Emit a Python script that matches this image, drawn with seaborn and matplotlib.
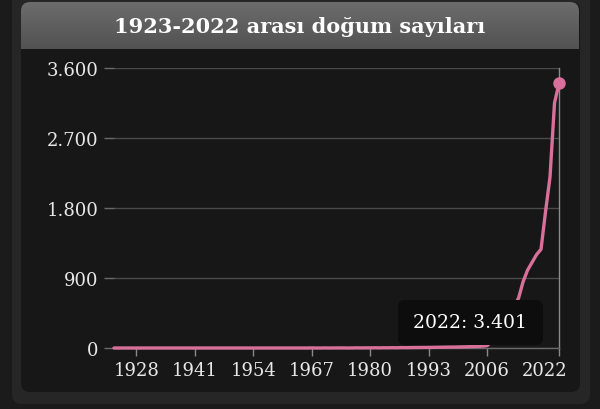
import numpy as np
import pandas as pd
import matplotlib
matplotlib.use("Agg")
import matplotlib.pyplot as plt
import seaborn as sns
from matplotlib.patches import FancyBboxPatch
from matplotlib.colors import LinearSegmentedColormap
from matplotlib.ticker import FuncFormatter
import matplotlib.transforms as mtrans

# ---- data ----
title = "1923-2022 arası doğum sayıları"
years = [
    1923, 1924, 1925, 1926, 1927, 1928, 1929, 1930, 1931, 1932,
    1933, 1934, 1935, 1936, 1937, 1938, 1939, 1940, 1941, 1942,
    1943, 1944, 1945, 1946, 1947, 1948, 1949, 1950, 1951, 1952,
    1953, 1954, 1955, 1956, 1957, 1958, 1959, 1960, 1961, 1962,
    1963, 1964, 1965, 1966, 1967, 1968, 1969, 1970, 1971, 1972,
    1973, 1974, 1975, 1976, 1977, 1978, 1979, 1980, 1981, 1982,
    1983, 1984, 1985, 1986, 1987, 1988, 1989, 1990, 1991, 1992,
    1993, 1994, 1995, 1996, 1997, 1998, 1999, 2000, 2001, 2002,
    2003, 2004, 2005, 2006, 2007, 2008, 2009, 2010, 2011, 2012,
    2013, 2014, 2015, 2016, 2017, 2018, 2019, 2020, 2021, 2022,
]
births = [
    0, 0, 0, 0, 0, 0, 0, 0, 0, 0,
    0, 0, 0, 0, 0, 0, 0, 0, 0, 0,
    0, 0, 0, 0, 0, 0, 0, 0, 0, 0,
    0, 0, 0, 0, 0, 0, 0, 0, 0, 0,
    0, 0, 0, 0, 1, 0, 0, 1, 0, 1,
    1, 1, 0, 1, 2, 1, 2, 2, 3, 2,
    3, 3, 4, 3, 5, 4, 5, 6, 6, 7,
    7, 8, 9, 10, 11, 12, 12, 14, 15, 17,
    19, 21, 24, 30, 80, 150, 240, 340, 440, 540,
    640, 850, 1000, 1100, 1200, 1270, 1750, 2200, 3150, 3401,
]
x_ticks = [1928, 1941, 1954, 1967, 1980, 1993, 2006, 2022]
y_ticks = [0, 900, 1800, 2700, 3600]
tooltip_year = 2022
tooltip_value = 3401

PINK = "#d8709a"
TXT = "#e8e8e8"


def tr_fmt(v, pos=None):
    return f"{int(round(v)):,}".replace(",", ".")


sns.set_theme(style="dark")
plt.rcParams["font.family"] = ["DejaVu Serif", "DejaVu Sans"]

fig = plt.figure(figsize=(6, 4.1), dpi=100, facecolor="#1b1b1b")

# ---- background card ----
bg = fig.add_axes([0, 0, 1, 1], zorder=0)
bg.axis("off")
bg.add_patch(FancyBboxPatch((12, -20), 578, 425,
                            boxstyle="round,pad=0,rounding_size=10",
                            fc="#262626", ec="none", zorder=1))
bg.add_patch(FancyBboxPatch((21, 3), 559, 390,
                            boxstyle="round,pad=0,rounding_size=9",
                            fc="#171717", ec="none", zorder=1))
header = FancyBboxPatch((21, 3), 558, 60,
                        boxstyle="round,pad=0,rounding_size=9",
                        fc="none", ec="none", zorder=1)
bg.add_patch(header)
grad = np.linspace(0, 1, 100).reshape(-1, 1)
cmap = LinearSegmentedColormap.from_list("hdr", ["#6c6c6c", "#525252"])
im = bg.imshow(grad, extent=(21, 579, 50, 3), cmap=cmap, aspect="auto",
               interpolation="bilinear", zorder=2)
im.set_clip_path(header)
bg.set_xlim(0, 600)
bg.set_ylim(410, 0)
bg.text(300, 27, title, ha="center", va="center", color="white",
        fontsize=15, fontweight="bold", zorder=3)

# ---- main chart ----
ax = fig.add_axes([114 / 600, 1 - 349 / 410, 445 / 600, 280 / 410], zorder=1)
ax.set_facecolor("none")
df = pd.DataFrame({"year": years, "births": births})
sns.lineplot(data=df, x="year", y="births", ax=ax, color=PINK, linewidth=2.4,
             zorder=3, clip_on=False, solid_capstyle="round")
last = df.iloc[[-1]]
ax.plot(last["year"], last["births"], "o", color=PINK, markersize=8,
        zorder=4, clip_on=False)

ax.set_xlim(years[0], years[-1])
ax.set_ylim(y_ticks[0], y_ticks[-1])
ax.set_xticks(x_ticks)
ax.set_yticks(y_ticks)
ax.yaxis.set_major_formatter(FuncFormatter(tr_fmt))
ax.set_xlabel("")
ax.set_ylabel("")
ax.grid(axis="y", color="#4a4a4a", linewidth=1)
ax.grid(axis="x", visible=False)
for s in ["left", "top"]:
    ax.spines[s].set_visible(False)
ax.spines["bottom"].set_color("#6a6a6a")
ax.spines["right"].set_color("#8a8a8a")
ax.spines["bottom"].set_linewidth(1)
ax.spines["right"].set_linewidth(1)
ax.tick_params(axis="x", bottom=True, length=5.5, width=1, color="#8a8a8a",
               pad=4, labelcolor=TXT, labelsize=13)
ax.tick_params(axis="y", left=True, length=7.2, width=1, color="#6a6a6a",
               pad=4, labelcolor=TXT, labelsize=13)

# shift last x label inwards like the reference
lbl = ax.get_xticklabels()[-1]
lbl.set_transform(lbl.get_transform() +
                  mtrans.ScaledTranslation(-0.14, 0, fig.dpi_scale_trans))

# ---- tooltip ----
ov = fig.add_axes([0, 0, 1, 1], zorder=2)
ov.axis("off")
ov.set_xlim(0, 600)
ov.set_ylim(410, 0)
ov.add_patch(FancyBboxPatch((398, 301), 145, 45,
                            boxstyle="round,pad=0,rounding_size=7",
                            fc="#0d0d0d", ec="none"))
ov.text(470, 323.5, f"{tooltip_year}: {tr_fmt(tooltip_value)}", ha="center",
        va="center", color="white", fontsize=13.5)

fig.savefig("out.png", dpi=100, facecolor=fig.get_facecolor())
